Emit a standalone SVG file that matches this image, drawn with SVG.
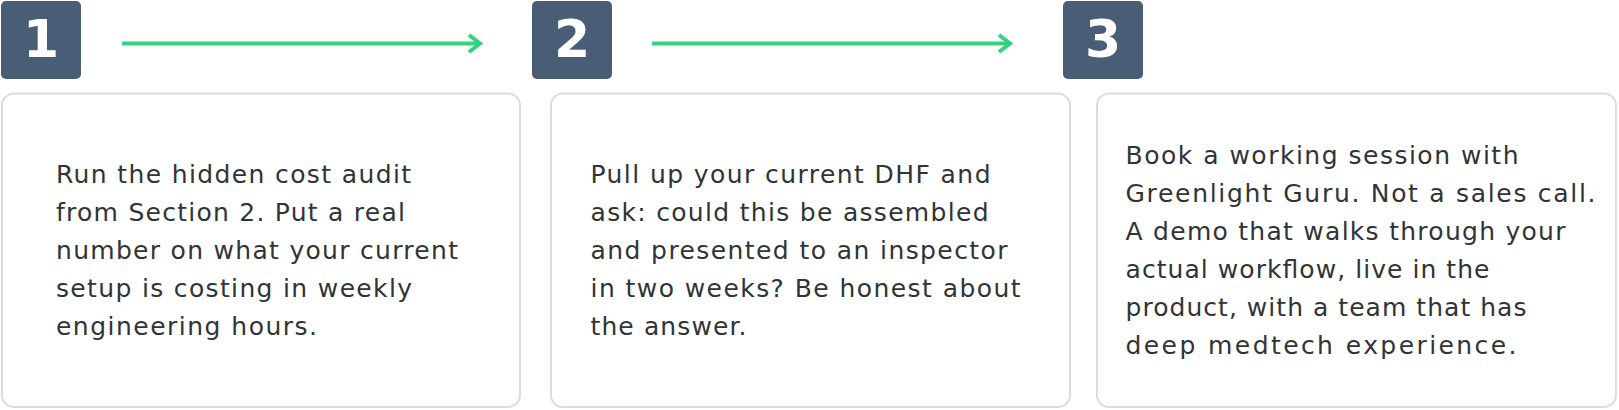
<svg xmlns="http://www.w3.org/2000/svg" width="1619" height="410" viewBox="0 0 1619 410">
<style>
.badge{fill:#4a5d77}
.num{fill:#ffffff;font-family:"DejaVu Sans","Liberation Sans",sans-serif;font-weight:bold;font-size:52px;text-anchor:middle}
.card{fill:#ffffff;stroke:#dcdcdc;stroke-width:2}
.body{fill:#303436;font-family:"DejaVu Sans","Liberation Sans",sans-serif;font-size:25px}
.conn{stroke:#34d27e;stroke-width:4;fill:none}
</style>
<defs>
<marker id="chev" markerUnits="userSpaceOnUse" markerWidth="30" markerHeight="30" refX="20" refY="15" orient="auto" overflow="visible">
<path d="M9,6.5 L20,15 L9,23.5" fill="none" stroke="#34d27e" stroke-width="4"/>
</marker>
</defs>
<rect width="1619" height="410" fill="#ffffff"/>
<g id="connectors">
<line class="conn" x1="122" y1="43.5" x2="480" y2="43.5" marker-end="url(#chev)"/>
<line class="conn" x1="652" y1="43.5" x2="1010" y2="43.5" marker-end="url(#chev)"/>
</g>
<g id="step1">
<rect class="badge" x="1" y="1" width="80" height="78" rx="5"/>
<text class="num" x="41" y="56.5">1</text>
<rect class="card" x="2" y="93.5" width="518" height="313.5" rx="12"/>
<text class="body">
<tspan x="56" y="182.5" textLength="355">Run the hidden cost audit</tspan>
<tspan x="56" y="220.5" textLength="349">from Section 2. Put a real</tspan>
<tspan x="56" y="258.5" textLength="402">number on what your current</tspan>
<tspan x="56" y="296.5" textLength="356">setup is costing in weekly</tspan>
<tspan x="56" y="334.5" textLength="261">engineering hours.</tspan>
</text>
</g>
<g id="step2">
<rect class="badge" x="532" y="1" width="80" height="78" rx="5"/>
<text class="num" x="572" y="56.5">2</text>
<rect class="card" x="551" y="93.5" width="519" height="313.5" rx="12"/>
<text class="body">
<tspan x="590.5" y="182.5" textLength="400">Pull up your current DHF and</tspan>
<tspan x="590.5" y="220.5" textLength="398">ask: could this be assembled</tspan>
<tspan x="590.5" y="258.5" textLength="417">and presented to an inspector</tspan>
<tspan x="590.5" y="296.5" textLength="430">in two weeks? Be honest about</tspan>
<tspan x="590.5" y="334.5" textLength="156">the answer.</tspan>
</text>
</g>
<g id="step3">
<rect class="badge" x="1063" y="1" width="80" height="78" rx="5"/>
<text class="num" x="1103" y="56.5">3</text>
<rect class="card" x="1097" y="93.5" width="519" height="313.5" rx="12"/>
<text class="body">
<tspan x="1125.5" y="163.5" textLength="393">Book a working session with</tspan>
<tspan x="1125.5" y="201.5" textLength="470">Greenlight Guru. Not a sales call.</tspan>
<tspan x="1125.5" y="239.5" textLength="440">A demo that walks through your</tspan>
<tspan x="1125.5" y="277.5" textLength="364">actual workflow, live in the</tspan>
<tspan x="1125.5" y="315.5" textLength="401">product, with a team that has</tspan>
<tspan x="1125.5" y="353.5" textLength="391">deep medtech experience.</tspan>
</text>
</g>
</svg>
